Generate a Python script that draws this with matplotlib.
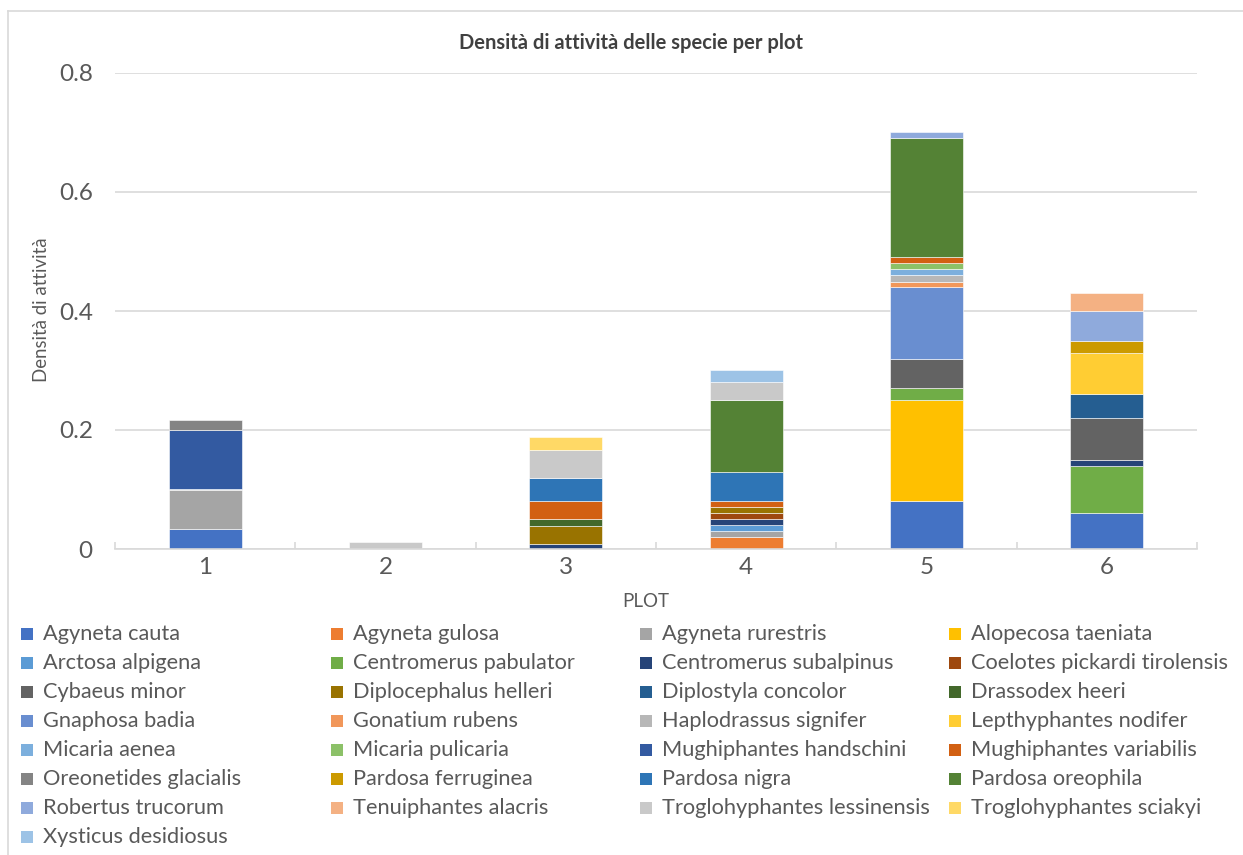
import numpy as np
import matplotlib
matplotlib.use("Agg")
import matplotlib.pyplot as plt
from matplotlib.patches import Rectangle
from matplotlib.lines import Line2D
from matplotlib.ticker import FuncFormatter, FixedLocator

plt.rcParams['font.family'] = ['Lato', 'DejaVu Sans']

title = "Densità di attività delle specie per plot"
xlabel = "PLOT"
ylabel = "Densità di attività"
plots = ["1", "2", "3", "4", "5", "6"]

species = [
    "Agyneta cauta", "Agyneta gulosa", "Agyneta rurestris", "Alopecosa taeniata",
    "Arctosa alpigena", "Centromerus pabulator", "Centromerus subalpinus",
    "Coelotes pickardi tirolensis", "Cybaeus minor", "Diplocephalus helleri",
    "Diplostyla concolor", "Drassodex heeri", "Gnaphosa badia", "Gonatium rubens",
    "Haplodrassus signifer", "Lepthyphantes nodifer", "Micaria aenea",
    "Micaria pulicaria", "Mughiphantes handschini", "Mughiphantes variabilis",
    "Oreonetides glacialis", "Pardosa ferruginea", "Pardosa nigra",
    "Pardosa oreophila", "Robertus trucorum", "Tenuiphantes alacris",
    "Troglohyphantes lessinensis", "Troglohyphantes sciakyi", "Xysticus desidiosus",
]

colors = [
    "#4472C4", "#ED7D31", "#A5A5A5", "#FFC000", "#5B9BD5", "#70AD47",
    "#264478", "#9E480E", "#636363", "#997300", "#255E91", "#43682B",
    "#698ED0", "#F1975A", "#B7B7B7", "#FFCD33", "#7CAFDD", "#8CC168",
    "#335AA1", "#D26012", "#848484", "#CC9A00", "#2E75B6", "#548235",
    "#8FAADC", "#F4B183", "#C9C9C9", "#FFD966", "#9DC3E6",
]

# values per plot, aligned with `species`
plot_1 = [0.033, 0, 0.067, 0, 0, 0, 0, 0, 0, 0, 0, 0, 0, 0, 0, 0, 0, 0,
          0.100, 0, 0.017, 0, 0, 0, 0, 0, 0, 0, 0]
plot_2 = [0, 0, 0, 0, 0, 0, 0, 0, 0, 0, 0, 0, 0, 0, 0, 0, 0, 0,
          0, 0, 0, 0, 0, 0, 0, 0, 0.012, 0, 0]
plot_3 = [0, 0, 0, 0, 0, 0, 0.008, 0, 0, 0.031, 0, 0.011, 0, 0, 0, 0, 0, 0,
          0, 0.030, 0, 0, 0.039, 0, 0, 0, 0.048, 0.022, 0]
plot_4 = [0, 0.020, 0.010, 0, 0.010, 0, 0.010, 0.010, 0, 0.010, 0, 0, 0, 0, 0, 0, 0, 0,
          0, 0.010, 0, 0, 0.050, 0.120, 0, 0, 0.030, 0, 0.020]
plot_5 = [0.080, 0, 0, 0.170, 0, 0.020, 0, 0, 0.050, 0, 0, 0, 0.120, 0.009, 0.011, 0, 0.010, 0.010,
          0, 0.010, 0, 0, 0, 0.200, 0.010, 0, 0, 0, 0]
plot_6 = [0.060, 0, 0, 0, 0, 0.080, 0.010, 0, 0.070, 0, 0.040, 0, 0, 0, 0, 0.070, 0, 0,
          0, 0, 0, 0.020, 0, 0, 0.050, 0.030, 0, 0, 0]

W, H = 1243, 855
fig = plt.figure(figsize=(W / 100, H / 100), dpi=100)
fig.patch.set_facecolor("white")

# chart border (top and left visible)
fig.add_artist(Line2D([8 / W, 8 / W], [1 - 11 / H, 0], transform=fig.transFigure,
                      color="#D9D9D9", lw=1.2))
fig.add_artist(Line2D([8 / W, 1], [1 - 11 / H, 1 - 11 / H], transform=fig.transFigure,
                      color="#D9D9D9", lw=1.2))

left, right, top, bottom = 115, 1197, 73, 549
ax = fig.add_axes([left / W, 1 - bottom / H, (right - left) / W, (bottom - top) / H])

data = np.array([plot_1, plot_2, plot_3, plot_4, plot_5, plot_6]).T  # species x plots
x = np.arange(1, len(plots) + 1)
base = np.zeros(len(plots))
for i, name in enumerate(species):
    vals = data[i]
    m = vals > 0
    ax.bar(x[m], vals[m], bottom=base[m], width=0.405, color=colors[i],
           edgecolor="white", linewidth=0.4, zorder=3)
    base = base + vals

ax.set_xlim(0.5, 6.5)
ax.set_ylim(0, 0.8)
ax.yaxis.set_major_locator(FixedLocator([0, 0.2, 0.4, 0.6, 0.8]))
ax.yaxis.set_major_formatter(FuncFormatter(lambda v, p: "0" if abs(v) < 1e-9 else f"{v:.1f}"))
ax.set_xticks(x)
ax.set_xticklabels(plots)
ax.set_xticks(np.arange(0.5, 7.0, 1.0), minor=True)
ax.grid(axis="y", color="#D9D9D9", lw=1.2, zorder=0)
for s in ["top", "right", "left"]:
    ax.spines[s].set_visible(False)
ax.spines["bottom"].set_color("#D9D9D9")
ax.spines["bottom"].set_linewidth(1.2)
ax.spines["bottom"].set_zorder(4)
ax.tick_params(axis="y", length=0, pad=16, labelsize=17.5, labelcolor="#595959")
ax.tick_params(axis="x", which="major", length=0, pad=6, labelsize=17.5, labelcolor="#595959")
ax.tick_params(axis="x", which="minor", length=5, width=1.2, direction="in", color="#D9D9D9")

fig.text(631 / W, 1 - 43 / H, title, ha="center", va="center", fontsize=14.5,
         fontweight="bold", color="#404040")
fig.text(646 / W, 1 - 601 / H, xlabel, ha="center", va="center", fontsize=13.5, color="#595959")
fig.text(42 / W, 1 - 310 / H, ylabel, ha="center", va="center", rotation=90,
         fontsize=13.4, color="#595959")

# legend laid out as in the reference (row-major, 4 columns)
col_x = [21, 331, 640, 949]
row_y0, row_dy = 634, 29
for i, name in enumerate(species):
    r, c = divmod(i, 4)
    yc = row_y0 + r * row_dy
    fig.add_artist(Rectangle((col_x[c] / W, 1 - (yc + 6) / H), 12 / W, 12 / H,
                             transform=fig.transFigure, facecolor=colors[i],
                             edgecolor="none"))
    fig.text((col_x[c] + 22) / W, 1 - yc / H, name, ha="left", va="center",
             fontsize=15.7, color="#595959")

fig.savefig("out.png", dpi=100)
